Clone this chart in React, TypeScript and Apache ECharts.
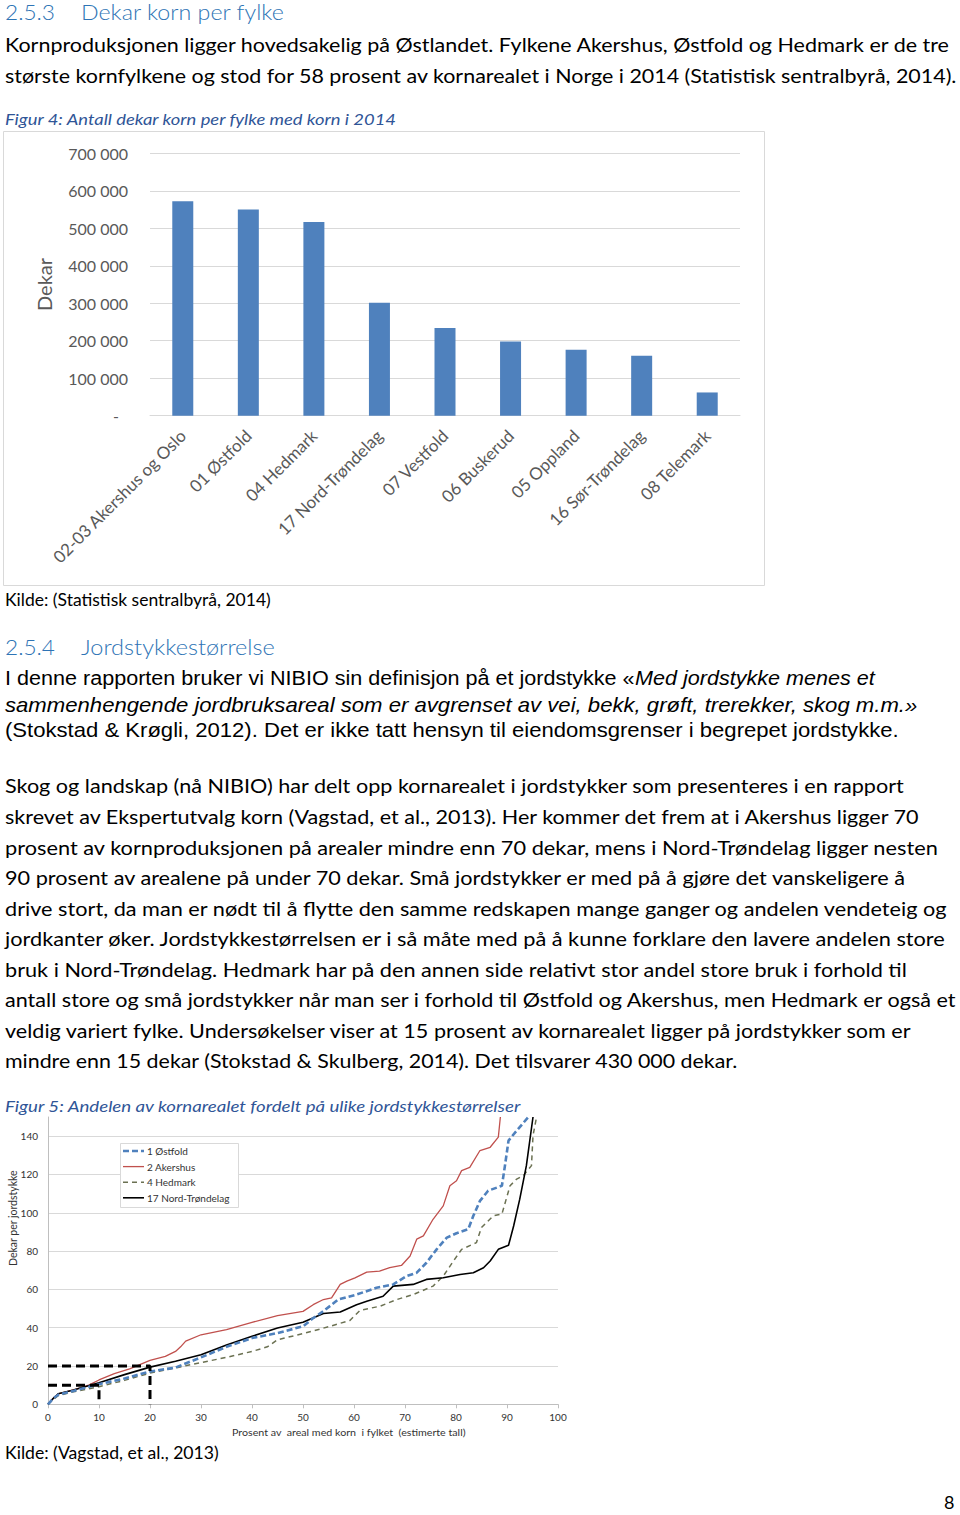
import React, { useEffect, useRef } from 'react';
import * as echarts from 'echarts';

// ---------- Figure 4 data ----------
const fylker = [
  '02-03 Akershus og Oslo', '01 Østfold', '04 Hedmark', '17 Nord-Trøndelag', '07 Vestfold',
  '06 Buskerud', '05 Oppland', '16 Sør-Trøndelag', '08 Telemark',
];
const dekar = [572000, 550000, 517000, 301000, 234000, 198000, 176000, 160000, 62000];

// ---------- Figure 5 data (x: % of area, y: dekar per jordstykke) ----------
const ostfold: [number, number][] = [
  [0, 0], [1, 3], [2, 5], [5, 7], [10, 10.5], [15, 13.5], [20, 17.1], [25, 19.2], [30, 24.5], [35, 30],
  [40, 34.6], [45, 37.2], [50, 40.7], [52, 45], [54, 48.6], [56.9, 54.7], [60.5, 57.3], [64.4, 60.8],
  [67.7, 62.6], [70.3, 66.9], [72.3, 68.7], [74.2, 73.9], [76.2, 80.9], [78.2, 87], [80.1, 89.3],
  [82.4, 91.4], [83.4, 98.4], [84.7, 106.2], [86.3, 111.5], [89, 114.1], [89.6, 124.6], [90.3, 137.7],
  [91.9, 142.9], [94.2, 150],
];
const akershus: [number, number][] = [
  [0, 0], [1, 3], [2, 5.5], [5, 7.5], [8, 10], [10, 12.7], [13, 16], [16, 18.5], [20, 22.9], [23, 25],
  [25, 27.6], [26, 30], [27, 33], [30, 36.3], [35, 39], [40, 42.8], [45, 46.3], [50, 48.5], [52, 52],
  [54, 54.7], [55.6, 55.6], [57.3, 62.6], [58.6, 64.3], [60.2, 66], [62.5, 69], [65, 69.5], [67, 71.3],
  [69.3, 72.5], [71, 77.4], [72.3, 86.2], [73.6, 87.9], [75.5, 96.6], [77.5, 103.6], [78.8, 114.1],
  [80.1, 116.7], [81.1, 122], [82.7, 123.7], [84.7, 132.5], [86.7, 134.2], [88.3, 139.5], [88.7, 150],
];
const hedmark: [number, number][] = [
  [0, 0], [1, 2.5], [2, 4.5], [5, 6.5], [10, 9.2], [15, 12.5], [20, 16.3], [25, 19], [30, 21.8],
  [35, 24.5], [40, 27.6], [43, 30], [45, 33.7], [50, 36.9], [55.3, 40.7], [59.2, 43.8], [61.2, 49.1],
  [65.1, 51.2], [68.4, 54.7], [71.6, 57.3], [75.5, 61.7], [77.5, 66.9], [79.5, 74.8], [81.1, 80.9],
  [84, 84.4], [85, 92.3], [87.3, 98.4], [89, 99.3], [90.6, 114.1], [91.9, 117.6], [93.2, 119.4],
  [94.8, 124.6], [95.1, 140.3], [95.8, 150],
];
const nordTrondelag: [number, number][] = [
  [0, 0], [1, 3], [2, 5.5], [5, 7.5], [10, 11.3], [15, 15.5], [20, 19.4], [25, 22.5], [30, 25.9],
  [35, 31], [40, 35.5], [45, 39.8], [50, 42.8], [54, 47.4], [57.3, 48.2], [60.5, 52], [62.5, 53.8],
  [65.7, 56.4], [67.7, 61.7], [71.6, 62.6], [74.2, 65.2], [77.5, 66.1], [80.8, 67.8], [83.4, 68.7],
  [85.4, 71.3], [86.7, 74.8], [88.3, 80.9], [90.3, 83], [91.3, 93.1], [92.5, 107.1], [93.8, 124.6],
  [95.1, 150],
];
const ref10: [number, number][] = [[0, 10], [10, 10], [10, 0]];
const ref20: [number, number][] = [[0, 20], [20, 20], [20, 0]];
const seriesNames = ['1 Østfold', '2 Akershus', '4 Hedmark', '17 Nord-Trøndelag'];

// ---------- Page text ----------
const heading1 = ['2.5.3', 'Dekar korn per fylke'];
const intro = [
  'Kornproduksjonen ligger hovedsakelig på Østlandet. Fylkene Akershus, Østfold og Hedmark er de tre',
  'største kornfylkene og stod for 58 prosent av kornarealet i Norge i 2014 (Statistisk sentralbyrå, 2014).',
];
const caption4 = 'Figur 4: Antall dekar korn per fylke med korn i 2014';
const source4 = 'Kilde: (Statistisk sentralbyrå, 2014)';
const heading2 = ['2.5.4', 'Jordstykkestørrelse'];
const defLine1 = ['I denne rapporten bruker vi NIBIO sin definisjon på et jordstykke «', 'Med jordstykke menes et'];
const defLine2 = 'sammenhengende jordbruksareal som er avgrenset av vei, bekk, grøft, trerekker, skog m.m.»';
const defLine3 = '(Stokstad & Krøgli, 2012). Det er ikke tatt hensyn til eiendomsgrenser i begrepet jordstykke.';
const para = [
  'Skog og landskap (nå NIBIO) har delt opp kornarealet i jordstykker som presenteres i en rapport',
  'skrevet av Ekspertutvalg korn (Vagstad, et al., 2013). Her kommer det frem at i Akershus ligger 70',
  'prosent av kornproduksjonen på arealer mindre enn 70 dekar, mens i Nord-Trøndelag ligger nesten',
  '90 prosent av arealene på under 70 dekar. Små jordstykker er med på å gjøre det vanskeligere å',
  'drive stort, da man er nødt til å flytte den samme redskapen mange ganger og andelen vendeteig og',
  'jordkanter øker. Jordstykkestørrelsen er i så måte med på å kunne forklare den lavere andelen store',
  'bruk i Nord-Trøndelag. Hedmark har på den annen side relativt stor andel store bruk i forhold til',
  'antall store og små jordstykker når man ser i forhold til Østfold og Akershus, men Hedmark er også et',
  'veldig variert fylke. Undersøkelser viser at 15 prosent av kornarealet ligger på jordstykker som er',
  'mindre enn 15 dekar (Stokstad & Skulberg, 2014). Det tilsvarer 430 000 dekar.',
];
const caption5 = 'Figur 5: Andelen av kornarealet fordelt på ulike jordstykkestørrelser';
const source5 = 'Kilde: (Vagstad, et al., 2013)';
const xName5 = 'Prosent av  areal med korn  i fylket  (estimerte tall)';
const yName5 = 'Dekar per jordstykke';
const pageNo = '8';

type Font = { family: string; size: number; style?: string; weight?: string | number; fill: string };

const ctx = typeof document !== 'undefined' ? document.createElement('canvas').getContext('2d') : null;
function measure(t: string, f: Font) {
  if (!ctx) return t.length * f.size * 0.5;
  ctx.font = `${f.style || 'normal'} ${f.weight || 'normal'} ${f.size}px ${f.family}`;
  return ctx.measureText(t).width;
}
function txt(t: string, x: number, y: number, f: Font, width?: number, extra: any = {}) {
  const w = measure(t, f);
  const s = width ? width / w : 1;
  return {
    type: 'text', x, y, scaleX: s, silent: true, ...extra,
    style: {
      text: t, fontSize: f.size, fontFamily: f.family, fontStyle: f.style || 'normal',
      fontWeight: f.weight || 'normal', fill: f.fill, align: 'left', verticalAlign: 'middle',
    },
  };
}

const CAL = "Lato, 'Open Sans', sans-serif";
const ARI = "'Liberation Sans', Arial, sans-serif";
const body: Font = { family: CAL, size: 19, fill: '#000' };
const head: Font = { family: CAL, size: 22, weight: 300, fill: '#2E74B5' };
const cap: Font = { family: CAL, size: 16, style: 'italic', fill: '#2F5597' };
const src: Font = { family: CAL, size: 17, fill: '#000' };
const arial: Font = { family: ARI, size: 21, fill: '#000' };
const arialI: Font = { family: ARI, size: 21, style: 'italic', fill: '#000' };
const small: Font = { family: CAL, size: 10, fill: '#333' };

const lineColors = ['#4F81BD', '#C0504D', '#6B7152', '#000000'];
const lineWidths = [2.6, 1.3, 1.5, 1.6];
const lineDashes: any[] = [[6, 3], null, [5, 4], null];

export default function App() {
  const ref = useRef<HTMLDivElement>(null);
  useEffect(() => {
    if (!ref.current) return;
    const chart = echarts.init(ref.current, undefined, { renderer: 'svg' });

    const graphics: any[] = [];
    graphics.push(txt(heading1[0], 5, 12, head, 50));
    graphics.push(txt(heading1[1], 81, 12, head, 204));
    graphics.push(txt(intro[0], 5, 45, body, 946));
    graphics.push(txt(intro[1], 5, 75, body, 953));
    graphics.push(txt(caption4, 5, 119, cap, 393));
    graphics.push({
      type: 'rect', silent: true, z: -1,
      shape: { x: 3.5, y: 131.5, width: 761, height: 454 },
      style: { fill: 'none', stroke: '#D9D9D9', lineWidth: 1 },
    });
    graphics.push(txt(source4, 5, 600, src, 266));
    graphics.push(txt(heading2[0], 5, 647, head, 50));
    graphics.push(txt(heading2[1], 81, 647, head, 194));
    {
      const w1 = measure(defLine1[0], arial);
      const w2 = measure(defLine1[1], arialI);
      const s = 870 / (w1 + w2);
      graphics.push(txt(defLine1[0], 5, 678, arial, w1 * s));
      graphics.push(txt(defLine1[1], 5 + w1 * s, 678, arialI, w2 * s));
    }
    graphics.push(txt(defLine2, 5, 705, arialI, 913));
    graphics.push(txt(defLine3, 5, 730, arial, 894));
    const paraW = [900, 917, 935, 903, 944, 942, 903, 953, 909, 734];
    para.forEach((l, i) => graphics.push(txt(l, 5, 786 + i * 30.55, body, paraW[i])));
    graphics.push(txt(caption5, 5, 1106, cap, 517));
    graphics.push(txt(xName5, 232, 1432, small, 234));
    {
      const f = { ...small, size: 10.5 };
      const w = measure(yName5, f);
      graphics.push(txt(yName5, 13, 1218 + w / 2, f, undefined, { rotation: Math.PI / 2 }));
    }
    graphics.push(txt(source5, 5, 1453, src, 214));
    graphics.push(txt(pageNo, 944, 1502, { ...body, size: 18 }));

    // custom legend for figure 5
    graphics.push({
      type: 'rect', silent: true, z: 20,
      shape: { x: 120.5, y: 1143.5, width: 118, height: 64 },
      style: { fill: '#fff', stroke: '#d9d9d9', lineWidth: 1 },
    });
    seriesNames.forEach((n, i) => {
      const y = 1151 + i * 15.6;
      graphics.push({
        type: 'line', silent: true, z: 21,
        shape: { x1: 123, y1: y, x2: 144, y2: y },
        style: {
          stroke: lineColors[i], lineWidth: lineWidths[i],
          lineDash: lineDashes[i] || undefined,
        },
      });
      graphics.push({ ...txt(n, 147, y, small), z: 21 });
    });

    const axisGray = '#595959';
    const lineSeries = [ostfold, akershus, hedmark, nordTrondelag].map((d, i) => ({
      name: seriesNames[i], type: 'line', xAxisIndex: 1, yAxisIndex: 1, data: d, symbol: 'none',
      color: lineColors[i],
      lineStyle: { color: lineColors[i], width: lineWidths[i], type: lineDashes[i] || 'solid' },
      z: i === 0 ? 4 : 3,
    }));

    const option: any = {
      animation: false,
      backgroundColor: '#fff',
      textStyle: { fontFamily: CAL },
      graphic: graphics,
      grid: [
        { left: 150, right: 220, top: 153.3, bottom: 1515 - 415.7, containLabel: false },
        { left: 48, right: 402, top: 1117, bottom: 1515 - 1404.3, containLabel: false },
      ],
      xAxis: [
        {
          gridIndex: 0,
          type: 'category',
          data: fylker,
          axisLine: { lineStyle: { color: '#D9D9D9' } },
          axisTick: { show: false },
          axisLabel: {
            interval: 0, rotate: 45, margin: 17, fontSize: 17, color: axisGray, fontFamily: CAL,
          },
        },
        {
          gridIndex: 1,
          type: 'value',
          min: 0, max: 100, interval: 10,
          splitLine: { show: false },
          axisLine: { lineStyle: { color: '#bfbfbf' } },
          axisTick: { show: true, length: 4, lineStyle: { color: '#bfbfbf' } },
          axisLabel: { fontSize: 10, color: '#333', fontFamily: CAL, margin: 8 },
        },
      ],
      yAxis: [
        {
          gridIndex: 0,
          type: 'value',
          min: 0, max: 700000, interval: 100000,
          name: 'Dekar',
          nameLocation: 'middle',
          nameGap: 96,
          nameTextStyle: { fontSize: 20, color: axisGray, fontFamily: CAL },
          axisLine: { show: false },
          axisTick: { show: false },
          splitLine: { lineStyle: { color: '#D9D9D9' } },
          axisLabel: {
            margin: 22, fontSize: 16, color: axisGray, fontFamily: CAL,
            formatter: (v: number) => (v === 0 ? '{d|-}' : `${v / 1000} 000`),
            rich: { d: { fontSize: 16, color: axisGray, fontFamily: CAL, padding: [0, 9, 0, 0] } },
          },
        },
        {
          gridIndex: 1,
          type: 'value',
          min: 0, max: 150, interval: 20,
          axisLine: { show: true, lineStyle: { color: '#bfbfbf' } },
          axisTick: { show: false },
          splitLine: { show: true, showMaxLine: false, lineStyle: { color: '#d9d9d9' } },
          axisLabel: {
            fontSize: 10, color: '#333', fontFamily: CAL, margin: 10, showMaxLabel: false,
            formatter: (v: number) => (v > 140 ? '' : String(v)),
          },
        },
      ],
      series: [
        {
          type: 'bar', xAxisIndex: 0, yAxisIndex: 0, data: dekar, barWidth: 21,
          itemStyle: { color: '#4F81BD' },
        },
        ...lineSeries,
        {
          name: 'ref10', type: 'line', xAxisIndex: 1, yAxisIndex: 1, data: ref10, symbol: 'none',
          lineStyle: { color: '#000', width: 3, type: [9, 5] }, z: 5,
        },
        {
          name: 'ref20', type: 'line', xAxisIndex: 1, yAxisIndex: 1, data: ref20, symbol: 'none',
          lineStyle: { color: '#000', width: 3, type: [9, 5] }, z: 5,
        },
      ],
    };
    chart.setOption(option);
    return () => chart.dispose();
  }, []);

  return (
    <div
      ref={ref}
      style={{ position: 'absolute', left: 0, top: 0, width: 960, height: 1515, background: '#fff' }}
    />
  );
}
